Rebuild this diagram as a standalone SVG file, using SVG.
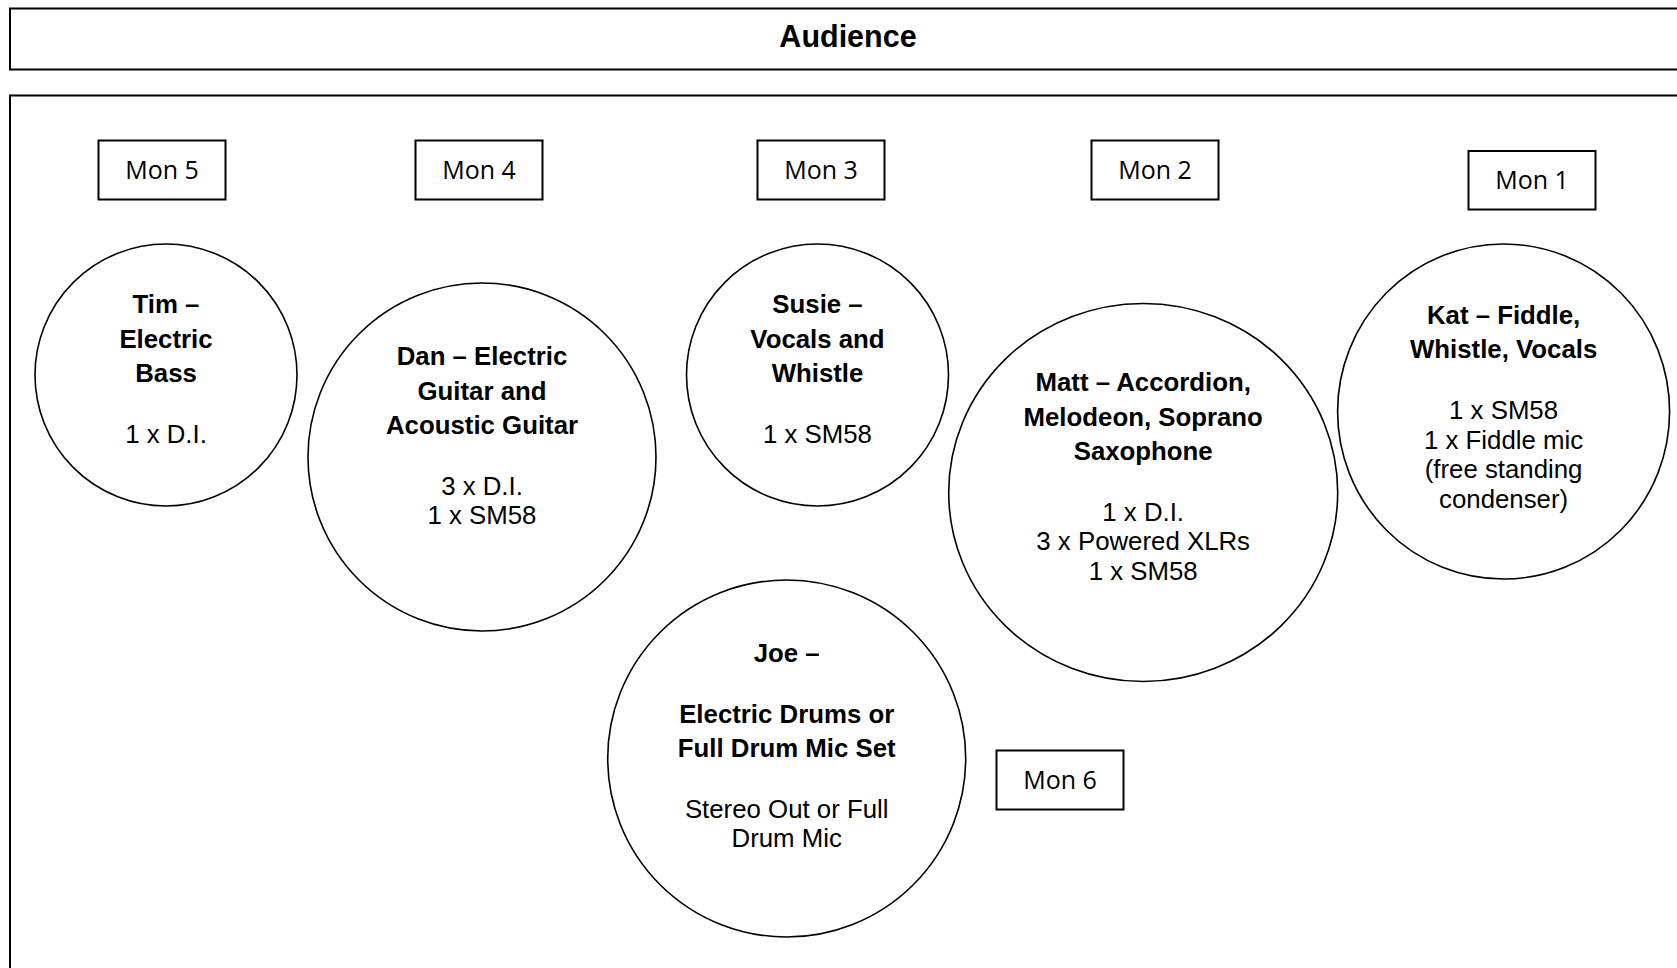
<svg xmlns="http://www.w3.org/2000/svg" width="1677" height="968" viewBox="0 0 1677 968">
<style>
.frame{fill:none;stroke:#000;stroke-width:2}
.mon{fill:#fff;stroke:#000;stroke-width:2}
.mt{font-family:"Open Sans","Liberation Sans",sans-serif;font-size:25px;text-anchor:middle;fill:#000}
.circ{fill:#fff;stroke:#000;stroke-width:1.6}
.b{font-family:"Liberation Sans",Arial,sans-serif;font-size:25.8px;font-weight:bold;text-anchor:middle;fill:#000}
.r{font-family:"Liberation Sans",Arial,sans-serif;font-size:25.8px;text-anchor:middle;fill:#000}
.title{font-family:"Liberation Sans",Arial,sans-serif;font-size:30.5px;font-weight:bold;text-anchor:middle;fill:#000}
</style>
<rect width="1677" height="968" fill="#fff"/>
<g id="audience">
<rect class="frame" x="10" y="8.5" width="1680" height="61"/>
<text class="title" x="848" y="46.5">Audience</text>
</g>
<g id="stage">
<rect class="frame" x="10" y="95.5" width="1680" height="890"/>
</g>
<g id="connectors"></g>
<g id="mon5"><rect class="mon" x="98.5" y="140.5" width="127" height="59"/><text class="mt" x="162" y="179">Mon 5</text></g>
<g id="mon4"><rect class="mon" x="415.5" y="140.5" width="127" height="59"/><text class="mt" x="479" y="179">Mon 4</text></g>
<g id="mon3"><rect class="mon" x="757.5" y="140.5" width="127" height="59"/><text class="mt" x="821" y="179">Mon 3</text></g>
<g id="mon2"><rect class="mon" x="1091.5" y="140.5" width="127" height="59"/><text class="mt" x="1155" y="179">Mon 2</text></g>
<g id="mon1"><rect class="mon" x="1468.5" y="151" width="127" height="58.5"/><text class="mt" x="1532" y="188.5">Mon 1</text></g>
<g id="mon6"><rect class="mon" x="996.5" y="750.5" width="127" height="59"/><text class="mt" x="1060" y="789">Mon 6</text></g>
<g id="tim">
<circle class="circ" cx="166" cy="375" r="131"/>
<text class="b" x="166" y="313">Tim –</text>
<text class="b" x="166" y="347.5">Electric</text>
<text class="b" x="166" y="382">Bass</text>
<text class="r" x="166" y="443">1 x D.I.</text>
</g>
<g id="dan">
<circle class="circ" cx="482" cy="457" r="174"/>
<text class="b" x="482" y="365">Dan – Electric</text>
<text class="b" x="482" y="399.5">Guitar and</text>
<text class="b" x="482" y="434">Acoustic Guitar</text>
<text class="r" x="482" y="495">3 x D.I.</text>
<text class="r" x="482" y="524">1 x SM58</text>
</g>
<g id="susie">
<circle class="circ" cx="817.5" cy="375" r="131"/>
<text class="b" x="817.5" y="313">Susie –</text>
<text class="b" x="817.5" y="347.5">Vocals and</text>
<text class="b" x="817.5" y="382">Whistle</text>
<text class="r" x="817.5" y="443">1 x SM58</text>
</g>
<g id="matt">
<ellipse class="circ" cx="1143.2" cy="492.5" rx="194.5" ry="189"/>
<text class="b" x="1143.2" y="391">Matt – Accordion,</text>
<text class="b" x="1143.2" y="425.5">Melodeon, Soprano</text>
<text class="b" x="1143.2" y="460">Saxophone</text>
<text class="r" x="1143.2" y="520.5">1 x D.I.</text>
<text class="r" x="1143.2" y="550">3 x Powered XLRs</text>
<text class="r" x="1143.2" y="579.5">1 x SM58</text>
</g>
<g id="kat">
<ellipse class="circ" cx="1503.6" cy="411.5" rx="166" ry="167.5"/>
<text class="b" x="1503.6" y="324">Kat – Fiddle,</text>
<text class="b" x="1503.6" y="358">Whistle, Vocals</text>
<text class="r" x="1503.6" y="419">1 x SM58</text>
<text class="r" x="1503.6" y="448.5">1 x Fiddle mic</text>
<text class="r" x="1503.6" y="478">(free standing</text>
<text class="r" x="1503.6" y="507.5">condenser)</text>
</g>
<g id="joe">
<ellipse class="circ" cx="786.7" cy="758.5" rx="179" ry="178.5"/>
<text class="b" x="786.7" y="662">Joe –</text>
<text class="b" x="786.7" y="722.5">Electric Drums or</text>
<text class="b" x="786.7" y="757">Full Drum Mic Set</text>
<text class="r" x="786.7" y="817.5">Stereo Out or Full</text>
<text class="r" x="786.7" y="847">Drum Mic</text>
</g>
</svg>
